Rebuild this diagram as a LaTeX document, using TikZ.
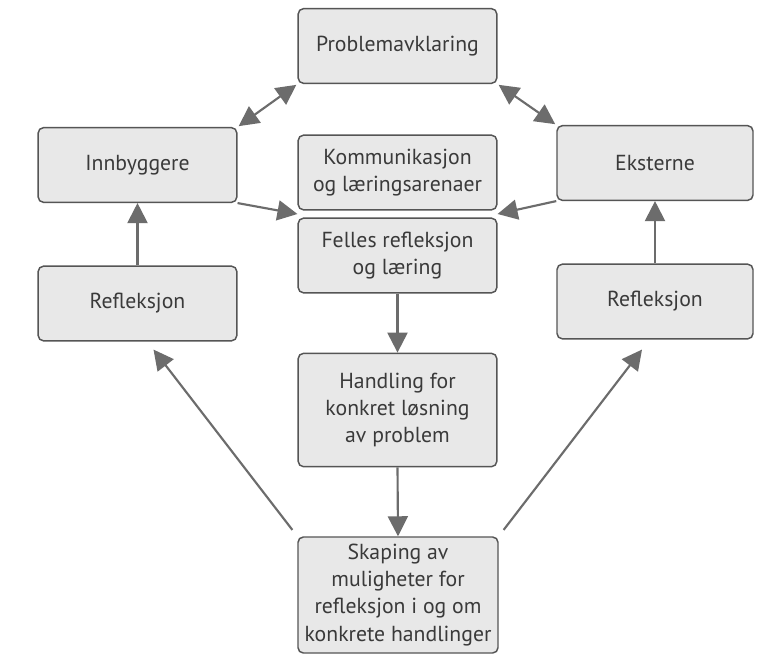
\documentclass[tikz,border=0pt]{standalone}
\usepackage{fontspec}
\setmainfont{PT Sans}
\usetikzlibrary{arrows.meta,calc}
\definecolor{boxfill}{HTML}{E8E8E8}
\definecolor{boxline}{HTML}{555555}
\definecolor{arrowgray}{HTML}{6C6C6C}
\definecolor{textgray}{HTML}{3A3A3A}
\tikzset{
  stage/.style={draw=boxline, line width=1.1pt, fill=boxfill, rounded corners=4pt,
    text=textgray, align=center, inner sep=2pt,
    font=\fontsize{16.3}{20.3}\selectfont},
  flow/.style={draw=arrowgray, line width=1.6pt,
    -{Triangle[length=15pt,width=15pt]}, color=arrowgray},
  twoway/.style={draw=arrowgray, line width=1.6pt,
    {Triangle[length=15pt,width=15pt]}-{Triangle[length=15pt,width=15pt]}, color=arrowgray}
}
\begin{document}
\begin{tikzpicture}[x=0.75pt,y=-0.75pt]
\useasboundingbox (0,0) rectangle (766,657);
\fill[white] (0,0) rectangle (766,657);

% central column
\node[stage, minimum width=149pt, minimum height=56pt] (prob) at (397.5,46) {Problemavklaring};
\node[stage, minimum width=149pt, minimum height=56pt] (komm) at (397.5,172.5) {Kommunikasjon\\og læringsarenaer};
\node[stage, minimum width=149pt, minimum height=56pt] (felles) at (397.5,255.5) {Felles refleksjon\\og læring};
\node[stage, minimum width=149pt, minimum height=85pt] (hand) at (397.5,410) {Handling for\\konkret løsning\\av problem};
\node[stage, minimum width=150pt, minimum height=87pt] (skap) at (398,595) {Skaping av\\muligheter for\\refleksjon i og om\\konkrete handlinger};

% side columns
\node[stage, minimum width=149pt, minimum height=56pt] (innb) at (137.5,165) {Innbyggere};
\node[stage, minimum width=147pt, minimum height=56pt] (ekst) at (655,163) {Eksterne};
\node[stage, minimum width=149pt, minimum height=56pt] (refl) at (137.5,303.5) {Refleksjon};
\node[stage, minimum width=147pt, minimum height=56pt] (refr) at (655,301.5) {Refleksjon};

% meeting point between the two upper central boxes
\coordinate (gapL) at ($(komm.south west)!0.5!(felles.north west)$);
\coordinate (gapR) at ($(komm.south east)!0.5!(felles.north east)$);

% connectors
\draw[twoway, shorten <=1pt, shorten >=1pt] (prob.south west) -- (innb.north east);
\draw[twoway, shorten <=1pt, shorten >=1pt] (prob.south east) -- (ekst.north west);
\draw[flow] (innb.south east) -- (gapL);
\draw[flow] (ekst.south west) -- (gapR);
\draw[flow] (refl.north) -- (innb.south);
\draw[flow] (refr.north) -- (ekst.south);
\draw[flow] (felles.south) -- (hand.north);
\draw[flow] (hand.south) -- (skap.north);
\draw[flow, shorten <=6pt] (skap.north west) -- ($(refl.south)+(16,8)$);
\draw[flow, shorten <=6pt] (skap.north east) -- ($(refr.south)+(-13,10)$);
\end{tikzpicture}
\end{document}
